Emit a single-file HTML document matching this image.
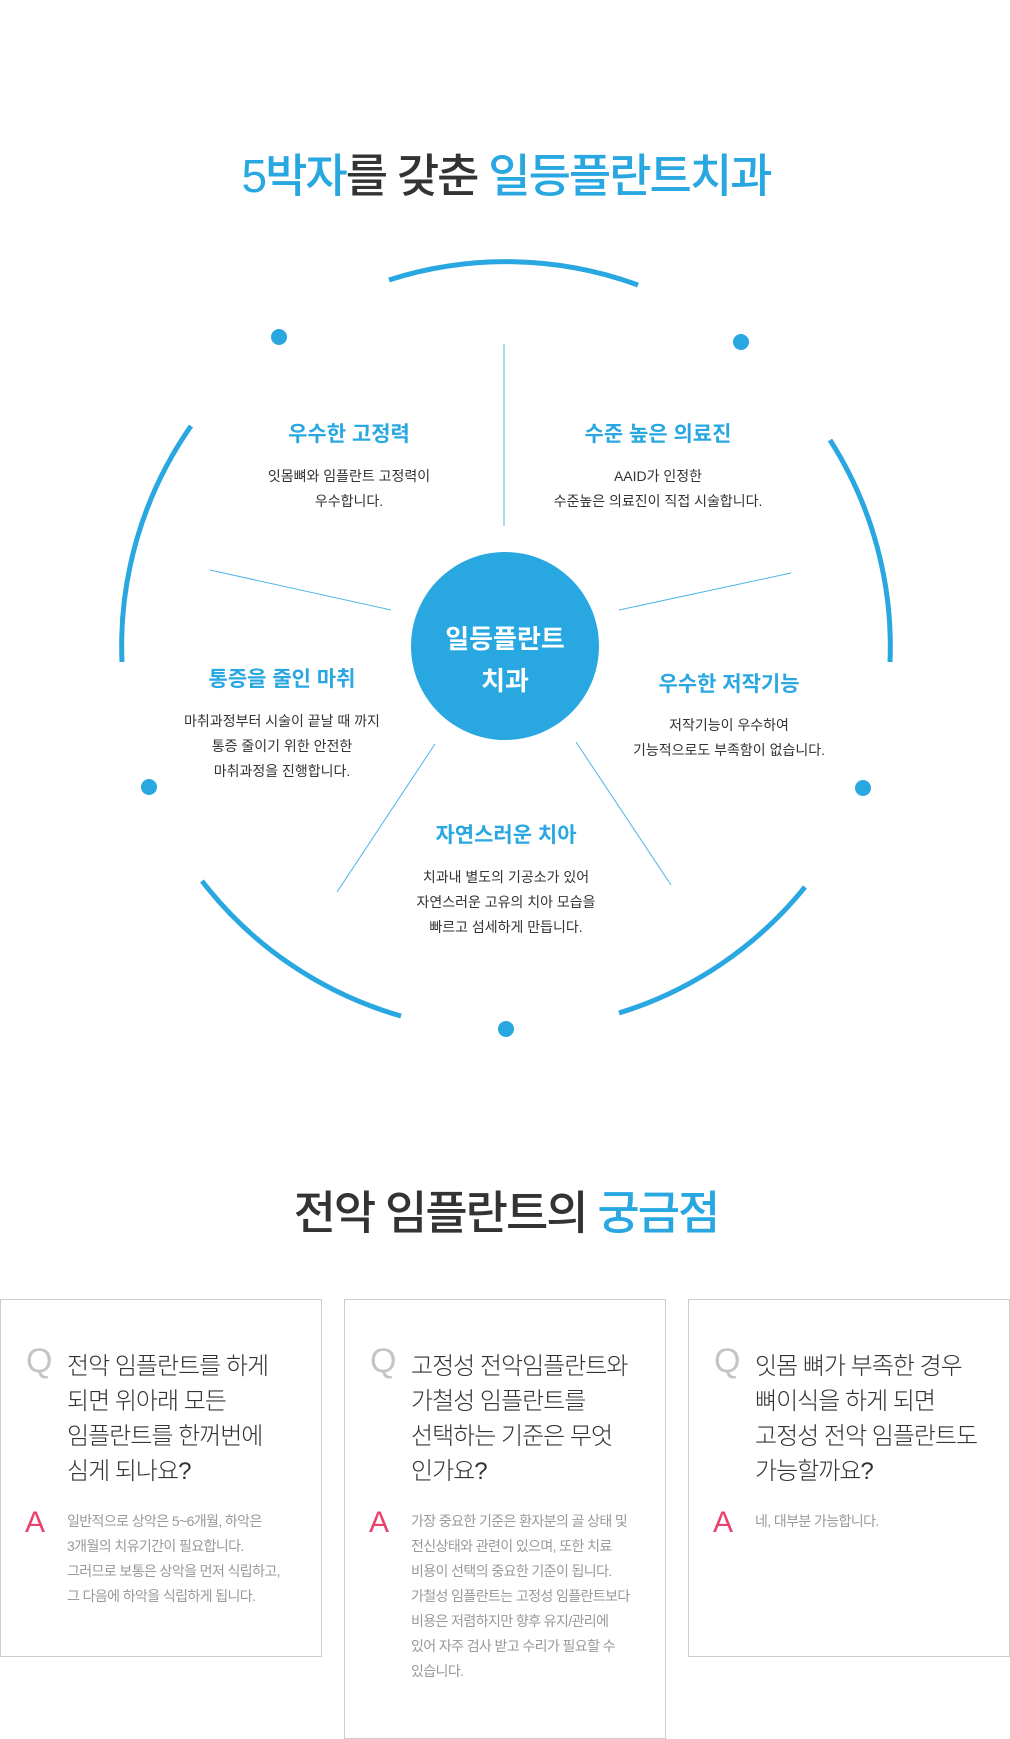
<!DOCTYPE html>
<html><head><meta charset="utf-8"><style>
*{margin:0;padding:0;box-sizing:border-box}
body{width:1010px;height:1732px;background:#fff;position:relative;overflow:hidden;font-family:"Liberation Sans","Noto Sans CJK KR",sans-serif;color:#333}
.a{position:absolute;white-space:nowrap}
.c{transform:translateX(-50%);text-align:center}
.h{color:#29a7e1;font-size:21px;font-weight:bold;line-height:1}
.b{font-size:14px;color:#333;line-height:25px}
.card{position:absolute;border:1px solid #ccc;background:#fff}
.q{position:absolute;left:25px;top:44px;font-size:34px;color:#c4c4c4;font-family:"Liberation Sans",sans-serif;line-height:1;font-weight:300}
.qt{position:absolute;left:66px;top:49px;font-size:24px;line-height:35px;color:#333;font-family:"Liberation Sans","Noto Sans CJK KR",sans-serif;font-weight:300;white-space:nowrap;letter-spacing:-1px}
.an{position:absolute;left:24px;font-size:30px;color:#e8416a;line-height:1;font-family:"Liberation Sans",sans-serif}
.at{position:absolute;left:66px;font-size:14px;line-height:25px;color:#999;white-space:nowrap;letter-spacing:-0.6px}
</style></head><body>
<div class="a c" style="left:506px;top:148px;font-size:46px;font-weight:500;letter-spacing:-2px;line-height:56px"><span style="color:#29a7e1">5박자</span>를 갖춘 <span style="color:#29a7e1">일등플란트치과</span></div>

<svg class="a" style="left:0;top:0" width="1010" height="1100">
<g fill="none" stroke="#29a7e1" stroke-width="5">
<path d="M389,280 A384,384 0 0 1 638,285"/>
<path d="M122,662 A384,384 0 0 1 191,426"/>
<path d="M830,440 A384,384 0 0 1 890,662"/>
<path d="M805,887 A384,384 0 0 1 619,1013"/>
<path d="M401,1016 A384,384 0 0 1 202,881"/>
</g>
<g stroke="#4fb6e6" stroke-width="1">
<line x1="504" y1="344" x2="504" y2="526"/>
<line x1="210" y1="570" x2="391" y2="610"/>
<line x1="619" y1="610" x2="791" y2="573"/>
<line x1="435" y1="744" x2="337" y2="892"/>
<line x1="576" y1="742" x2="671" y2="885"/>
</g>
<g fill="#29a7e1">
<circle cx="279" cy="337" r="8"/><circle cx="741" cy="342" r="8"/>
<circle cx="149" cy="787" r="8"/><circle cx="863" cy="788" r="8"/>
<circle cx="506" cy="1029" r="8"/>
<circle cx="505" cy="646" r="94"/>
</g>
</svg>
<div class="a c" style="left:505px;top:618px;color:#fff;font-size:26px;font-weight:bold;line-height:42px">일등플란트<br>치과</div>

<div class="a c h" style="left:349px;top:424px">우수한 고정력</div>
<div class="a c b" style="left:349px;top:464px">잇몸뼈와 임플란트 고정력이<br>우수합니다.</div>
<div class="a c h" style="left:658px;top:424px">수준 높은 의료진</div>
<div class="a c b" style="left:658px;top:464px">AAID가 인정한<br>수준높은 의료진이 직접 시술합니다.</div>
<div class="a c h" style="left:282px;top:669px">통증을 줄인 마취</div>
<div class="a c b" style="left:282px;top:709px">마취과정부터 시술이 끝날 때 까지<br>통증 줄이기 위한 안전한<br>마취과정을 진행합니다.</div>
<div class="a c h" style="left:729px;top:674px">우수한 저작기능</div>
<div class="a c b" style="left:729px;top:713px">저작기능이 우수하여<br>기능적으로도 부족함이 없습니다.</div>
<div class="a c h" style="left:506px;top:825px">자연스러운 치아</div>
<div class="a c b" style="left:506px;top:865px">치과내 별도의 기공소가 있어<br>자연스러운 고유의 치아 모습을<br>빠르고 섬세하게 만듭니다.</div>

<div class="a c" style="left:506px;top:1185px;font-size:46px;font-weight:500;letter-spacing:-2px;line-height:56px;color:#333">전악 임플란트의 <span style="color:#29a7e1">궁금점</span></div>

<div class="card" style="left:0;top:1299px;width:322px;height:358px">
<div class="q">Q</div>
<div class="qt">전악 임플란트를 하게<br>되면 위아래 모든<br>임플란트를 한꺼번에<br>심게 되나요?</div>
<div class="an" style="top:208px">A</div>
<div class="at" style="top:209px">일반적으로 상악은 5~6개월, 하악은<br>3개월의 치유기간이 필요합니다.<br>그러므로 보통은 상악을 먼저 식립하고,<br>그 다음에 하악을 식립하게 됩니다.</div>
</div>
<div class="card" style="left:344px;top:1299px;width:322px;height:440px">
<div class="q">Q</div>
<div class="qt">고정성 전악임플란트와<br>가철성 임플란트를<br>선택하는 기준은 무엇<br>인가요?</div>
<div class="an" style="top:208px">A</div>
<div class="at" style="top:209px">가장 중요한 기준은 환자분의 골 상태 및<br>전신상태와 관련이 있으며, 또한 치료<br>비용이 선택의 중요한 기준이 됩니다.<br>가철성 임플란트는 고정성 임플란트보다<br>비용은 저렴하지만 향후 유지/관리에<br>있어 자주 검사 받고 수리가 필요할 수<br>있습니다.</div>
</div>
<div class="card" style="left:688px;top:1299px;width:322px;height:358px">
<div class="q">Q</div>
<div class="qt">잇몸 뼈가 부족한 경우<br>뼈이식을 하게 되면<br>고정성 전악 임플란트도<br>가능할까요?</div>
<div class="an" style="top:208px">A</div>
<div class="at" style="top:209px">네, 대부분 가능합니다.</div>
</div>
</body></html>
